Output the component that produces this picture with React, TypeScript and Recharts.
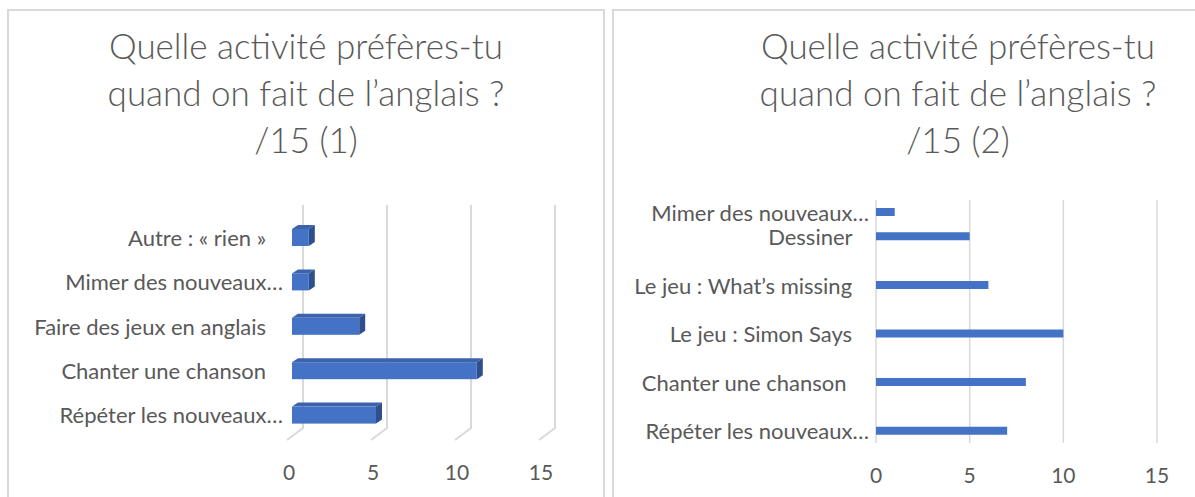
import React from 'react'
import { BarChart, Bar, XAxis, YAxis, CartesianGrid } from 'recharts'

const FONT = 'Lato, "Open Sans", sans-serif'
const TEXT = '#595959'
const GRID = '#D9D9D9'
const BLUE = '#4472C4'
const BLUE_TOP = '#3B63AD'
const BLUE_SIDE = '#2E4F8C'

// titles
const title1 = ['Quelle activité préfères-tu', 'quand on fait de l’anglais ?', '/15 (1)']
const title2 = ['Quelle activité préfères-tu', 'quand on fait de l’anglais ?', '/15 (2)']

// chart (1) – top to bottom
const categories1 = [
  'Autre : « rien »   ',
  'Mimer des nouveaux…',
  'Faire des jeux en anglais   ',
  'Chanter une chanson   ',
  'Répéter les nouveaux…',
]
const values1 = [1, 1, 4, 11, 5]

// chart (2) – top to bottom, blank rows kept as in the sheet
const categories2 = [
  'Mimer des nouveaux…',
  'Dessiner   ',
  '',
  'Le jeu : What’s missing   ',
  '',
  'Le jeu : Simon Says   ',
  '',
  'Chanter une chanson    ',
  '',
  'Répéter les nouveaux…',
]
const values2 = [1, 5, null, 6, null, 10, null, 8, null, 7]

const xTicks = [0, 5, 10, 15]

const data1 = categories1.map((name, i) => ({ name, value: values1[i] }))
const data2 = categories2.map((name, i) => ({ name, value: values2[i] }))

function Bar3D(props: any) {
  const { x, y, width, height } = props
  if (!width) return null
  const dx = 6
  const dy = 4
  return (
    <g>
      <path d={`M${x},${y} L${x + dx},${y - dy} L${x + width + dx},${y - dy} L${x + width},${y} Z`} fill={BLUE_TOP} />
      <path
        d={`M${x + width},${y} L${x + width + dx},${y - dy} L${x + width + dx},${y + height - dy} L${x + width},${y + height} Z`}
        fill={BLUE_SIDE}
      />
      <rect x={x} y={y} width={width} height={height} fill={BLUE} />
    </g>
  )
}

// back-wall gridline that bends forward onto the floor
function gridLine3D(p: any) {
  const back = p.x1 + 11
  return (
    <path
      key={`g-${p.index}`}
      d={`M${back},${p.y1 - 10} L${back},${p.y2 - 9} L${p.x1 - 5},${p.y2 + 3}`}
      stroke={GRID}
      strokeWidth={2}
      fill="none"
    />
  )
}

function CatTick(props: any) {
  const { x, y, payload } = props
  return (
    <text
      x={x}
      y={y}
      textAnchor="end"
      dominantBaseline="central"
      xmlSpace="preserve"
      fill={TEXT}
      fontSize={22}
      fontFamily={FONT}
    >
      {payload.value}
    </text>
  )
}

function numTick(dx: number, dy: number) {
  return (props: any) => (
    <text
      x={props.x + dx}
      y={props.y + dy}
      textAnchor="middle"
      dominantBaseline="central"
      fill={TEXT}
      fontSize={21}
      fontFamily={FONT}
    >
      {props.payload.value}
    </text>
  )
}

function Title({ lines, left, width }: { lines: string[]; left: number; width: number }) {
  return (
    <div
      style={{
        position: 'absolute',
        left,
        top: 22,
        width,
        textAlign: 'center',
        fontFamily: FONT,
        fontSize: 35,
        fontWeight: 300,
        lineHeight: '47px',
        color: TEXT,
      }}
    >
      {lines.map((l) => (
        <div key={l}>{l}</div>
      ))}
    </div>
  )
}

export default function App() {
  return (
    <div
      style={{
        position: 'absolute',
        left: 0,
        top: 0,
        width: 1195,
        height: 497,
        overflow: 'hidden',
        background: '#fff',
      }}
    >
      <div
        style={{
          position: 'absolute',
          left: 7,
          top: 9,
          width: 598,
          height: 540,
          border: `2px solid ${GRID}`,
          boxSizing: 'border-box',
        }}
      />
      <div
        style={{
          position: 'absolute',
          left: 612,
          top: 9,
          width: 700,
          height: 540,
          border: `2px solid ${GRID}`,
          boxSizing: 'border-box',
        }}
      />
      <Title lines={title1} left={7} width={598} />
      <Title lines={title2} left={612} width={692} />

      <div style={{ position: 'absolute', left: 0, top: 0 }}>
        <BarChart
          width={600}
          height={497}
          data={data1}
          layout="vertical"
          margin={{ top: 215, right: 56, bottom: 30, left: 0 }}
        >
          <CartesianGrid horizontal={false} vertical={gridLine3D} />
          <XAxis
            type="number"
            domain={[0, 15]}
            ticks={xTicks}
            axisLine={false}
            tickLine={false}
            tickSize={0}
            tickMargin={0}
            height={30}
            tick={numTick(-3, 34)}
          />
          <YAxis
            type="category"
            dataKey="name"
            width={292}
            axisLine={false}
            tickLine={false}
            tickSize={0}
            tickMargin={9}
            interval={0}
            tick={<CatTick />}
          />
          <Bar dataKey="value" barSize={17} shape={<Bar3D />} isAnimationActive={false} />
        </BarChart>
      </div>

      <div style={{ position: 'absolute', left: 600, top: 0 }}>
        <BarChart
          width={595}
          height={497}
          data={data2}
          layout="vertical"
          margin={{ top: 200, right: 38, bottom: 24, left: 0 }}
        >
          <CartesianGrid horizontal={false} stroke={GRID} strokeWidth={1.5} />
          <XAxis
            type="number"
            domain={[0, 15]}
            ticks={xTicks}
            axisLine={false}
            tickLine={false}
            tickSize={0}
            tickMargin={0}
            height={30}
            tick={numTick(0, 31)}
          />
          <YAxis
            type="category"
            dataKey="name"
            width={276}
            axisLine={false}
            tickLine={false}
            tickSize={0}
            tickMargin={7}
            interval={0}
            tick={<CatTick />}
          />
          <Bar dataKey="value" barSize={8} fill={BLUE} isAnimationActive={false} />
        </BarChart>
      </div>
    </div>
  )
}
